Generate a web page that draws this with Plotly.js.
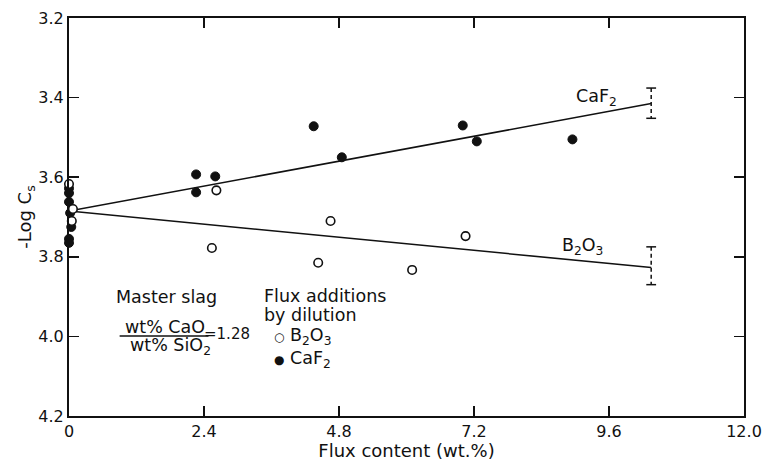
<!DOCTYPE html>
<html>
<head>
<meta charset="utf-8">
<script src="https://cdn.plot.ly/plotly-3.0.1.min.js"></script>
<style>
  html, body { margin: 0; padding: 0; background: #fff; }
  #chart { width: 764px; height: 461px; }
</style>
</head>
<body>
<div id="chart"></div>
<script>
// Sulphide capacity of the master slag with flux additions
const caf2X = [0, 0, 0, 0.02, 0.04, 0, 0, 2.26, 2.26, 2.6, 4.35, 4.85, 7.0, 7.25, 8.95];
const caf2Y = [3.628, 3.64, 3.662, 3.69, 3.725, 3.755, 3.765, 3.593, 3.638, 3.598, 3.472, 3.55, 3.47, 3.51, 3.505];

const b2o3X = [0, 0.07, 0.05, 2.54, 2.62, 4.43, 4.65, 6.1, 7.05];
const b2o3Y = [3.617, 3.68, 3.71, 3.778, 3.633, 3.815, 3.71, 3.833, 3.748];

// Fitted trend lines (start, end)
const fitX = [0, 10.35];
const caf2Fit = [3.685, 3.415];
const b2o3Fit = [3.685, 3.827];

// Scatter band at the end of each trend line (low, high)
const caf2Band = [3.376, 3.452];
const b2o3Band = [3.775, 3.87];

const xTickVals = [0, 2.4, 4.8, 7.2, 9.6, 12.0];
const xTickText = ['0', '2.4', '4.8', '7.2', '9.6', '12.0'];

const FONT = 'DejaVu Sans, Liberation Sans, sans-serif';
const INK = '#111';
const NOTE = 17.5;

const traces = [
  { x: fitX, y: caf2Fit, mode: 'lines', line: { color: INK, width: 1.5 }, hoverinfo: 'skip' },
  { x: fitX, y: b2o3Fit, mode: 'lines', line: { color: INK, width: 1.5 }, hoverinfo: 'skip' },
  { x: [fitX[1], fitX[1]], y: caf2Band, mode: 'lines+markers', cliponaxis: false,
    line: { color: INK, width: 1.5, dash: '4px,3px' },
    marker: { symbol: 'line-ew-open', size: 7, line: { color: INK, width: 1.5 } }, hoverinfo: 'skip' },
  { x: [fitX[1], fitX[1]], y: b2o3Band, mode: 'lines+markers', cliponaxis: false,
    line: { color: INK, width: 1.5, dash: '4px,3px' },
    marker: { symbol: 'line-ew-open', size: 7, line: { color: INK, width: 1.5 } }, hoverinfo: 'skip' },
  { x: caf2X, y: caf2Y, mode: 'markers', name: 'CaF2', cliponaxis: false,
    marker: { symbol: 'circle', size: 9, color: INK, line: { color: INK, width: 1 } } },
  { x: b2o3X, y: b2o3Y, mode: 'markers', name: 'B2O3', cliponaxis: false,
    marker: { symbol: 'circle', size: 8.5, color: '#fff', line: { color: INK, width: 1.6 } } }
];

const txt = (x, y, text, opts) => Object.assign({
  x: x, y: y, xref: 'x', yref: 'y', text: text, showarrow: false,
  font: { family: FONT, size: NOTE, color: INK }, xanchor: 'center', yanchor: 'middle'
}, opts || {});

const layout = {
  width: 764, height: 461,
  margin: { l: 69, r: 20, t: 18, b: 45 },
  paper_bgcolor: '#fff', plot_bgcolor: '#fff',
  showlegend: false,
  font: { family: FONT, size: 16, color: INK },
  xaxis: {
    range: [0, 12], tickvals: xTickVals, ticktext: xTickText,
    ticks: 'inside', ticklen: 10, tickwidth: 1.5, tickcolor: INK,
    showline: true, linecolor: INK, linewidth: 2, mirror: 'ticks',
    showgrid: false, zeroline: false, ticklabeloverflow: 'allow',
    tickfont: { family: FONT, size: 16, color: INK },
    title: { text: 'Flux content (wt.%)', font: { family: FONT, size: 18, color: INK }, standoff: 6 }
  },
  yaxis: {
    range: [4.2, 3.2], dtick: 0.2, tick0: 3.2, tickformat: '.1f',
    ticks: 'inside', ticklen: 10, tickwidth: 1.5, tickcolor: INK,
    showline: true, linecolor: INK, linewidth: 2, mirror: 'ticks',
    showgrid: false, zeroline: false,
    tickfont: { family: FONT, size: 16, color: INK },
    title: { text: '-Log C<sub>s</sub>', font: { family: FONT, size: 18, color: INK }, standoff: 2 }
  },
  annotations: [
    txt(9.38, 3.40, 'CaF<sub>2</sub>'),
    txt(9.13, 3.775, 'B<sub>2</sub>O<sub>3</sub>'),
    txt(1.73, 3.901, 'Master slag'),
    txt(1.70, 3.977, 'wt% CaO'),
    txt(1.80, 4.025, 'wt% SiO<sub>2</sub>'),
    txt(2.81, 3.995, '=1.28', { font: { family: FONT, size: 15, color: INK } }),
    txt(3.43, 3.8985, 'Flux additions', { xanchor: 'left' }),
    txt(3.43, 3.947, 'by dilution', { xanchor: 'left' }),
    txt(3.6, 4.000, '<span style="font-size:12px">○</span> B<sub>2</sub>O<sub>3</sub>', { xanchor: 'left' }),
    txt(3.6, 4.058, '<span style="font-size:12px">●</span> CaF<sub>2</sub>', { xanchor: 'left' })
  ],
  shapes: [
    { type: 'line', xref: 'x', yref: 'y', x0: 0.9, x1: 2.48, y0: 3.999, y1: 3.999,
      line: { color: INK, width: 1.3 } }
  ]
};

Plotly.newPlot('chart', traces, layout, { staticPlot: true, displayModeBar: false });
</script>
</body>
</html>
